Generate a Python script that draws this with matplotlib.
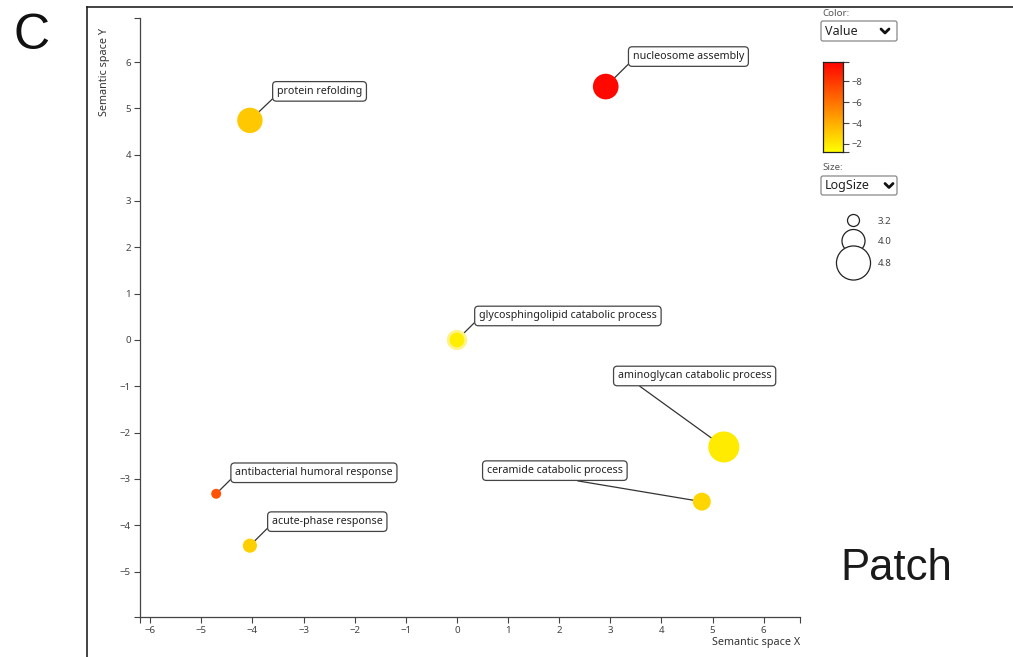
import matplotlib
matplotlib.use("Agg")
import matplotlib.pyplot as plt
import numpy as np
from matplotlib.colors import LinearSegmentedColormap, Normalize
from matplotlib.patches import FancyBboxPatch

# GO terms (REVIGO semantic space)
terms = ["protein refolding", "nucleosome assembly",
         "glycosphingolipid catabolic process", "aminoglycan catabolic process",
         "ceramide catabolic process", "antibacterial humoral response",
         "acute-phase response"]
sem_x = [-4.05, 2.91, 0.00, 5.22, 4.79, -4.71, -4.05]
sem_y = [4.74, 5.47, 0.00, -2.31, -3.49, -3.32, -4.44]
value = [-3.1, -9.6, -1.8, -1.9, -2.6, -7.1, -2.8]
log_size = [4.17, 4.19, 3.60, 4.58, 3.63, 3.05, 3.35]

size_legend = [3.2, 4.0, 4.8]
cbar_ticks = [-8, -6, -4, -2]
v_min, v_max = -9.9, -1.2

# label placement: offset in pixels from the point, and where the leader line meets the box
label_off = [(27, 29), (27, 30), (22, 24), (-106, 71), (-215, 31), (19, 21), (22, 24)]
label_rel = [(0, 0.2), (0, 0.2), (0, 0.3), (0.1, 0), (0.46, 0), (0, 0.3), (0, 0.3)]

W, H = 1013, 657
FONT = ["Noto Sans", "DejaVu Sans"]
plt.rcParams["font.family"] = FONT

cmap = LinearSegmentedColormap.from_list("ry", ["#ff0000", "#ffff00"])
norm = Normalize(vmin=v_min, vmax=v_max)


def radius_px(ls):
    return 6 + (np.asarray(ls) - 3.2) * 6.9


def marker_area(ls):
    return (2 * radius_px(ls) * 72 / 100) ** 2


fig = plt.figure(figsize=(W / 100, H / 100), dpi=100)

# overlay in pixel coordinates for frame and the widget-like bits
ov = fig.add_axes([0, 0, 1, 1])
ov.set_xlim(0, W)
ov.set_ylim(H, 0)
ov.axis("off")
ov.plot([87, 87], [H, 7], color="#222", lw=1.2)
ov.plot([87, W], [7, 7], color="#222", lw=1.2)
ov.text(32, 36, "C", fontsize=36, family="Liberation Sans", ha="center", va="center", color="#111")
ov.text(896, 568, "Patch", fontsize=31.5, family="Liberation Sans", ha="center", va="center", color="#1a1a1a")

ov.text(822, 13, "Color:", fontsize=7, color="#555", va="center")
ov.text(822, 168, "Size:", fontsize=7, color="#555", va="center")
for (y0, y1, txt, cx) in [(21, 41, "Value", 885), (176, 195, "LogSize", 889)]:
    ov.add_patch(FancyBboxPatch((821, y0), 76, y1 - y0, boxstyle="round,pad=0,rounding_size=2",
                                fc="white", ec="#888", lw=0.9))
    ov.text(825, (y0 + y1) / 2 + 0.5, txt, fontsize=9, color="#222", va="center")
    cy = (y0 + y1) / 2
    ov.plot([cx - 4, cx, cx + 4], [cy - 2, cy + 2, cy - 2], color="#111", lw=2.0,
            solid_capstyle="round", solid_joinstyle="round")

# size legend
leg_y = [220.5, 241, 263]
ov.scatter([853.5] * len(size_legend), leg_y, s=marker_area(size_legend),
           facecolor="white", edgecolor="#222", lw=0.9, zorder=3)
for v, y in zip(size_legend, leg_y):
    ov.text(878, y + 1, f"{v:.1f}", fontsize=7, color="#444", va="center")

ov.text(104, 28, "Semantic space Y", rotation=90, fontsize=7.8, color="#333", ha="center", va="top")
ov.text(800, 643, "Semantic space X", fontsize=7.8, color="#333", ha="right", va="center")

# main scatter
ax = fig.add_axes([140 / W, 1 - 617 / H, 660 / W, 599 / H])
ax.patch.set_alpha(0)
ax.set_xlim(-6.20, 6.71)
ax.set_ylim(-5.98, 6.95)
for s in ["top", "right"]:
    ax.spines[s].set_visible(False)
for s in ["left", "bottom"]:
    ax.spines[s].set_color("#444")
    ax.spines[s].set_linewidth(0.9)
ax.set_xticks(range(-6, 7))
ax.set_yticks(range(-5, 7))
ax.set_xticks(ax.get_xlim(), minor=True)
ax.set_yticks(ax.get_ylim(), minor=True)
ax.tick_params(which="both", length=4.5, width=0.8, color="#444", labelsize=7,
               labelcolor="#444", pad=2)

ax.scatter(sem_x, sem_y, s=marker_area(log_size), c=value, cmap=cmap, norm=norm,
           edgecolors=["#fff38a" if t.startswith("glyco") else "none" for t in terms],
           linewidths=[2.0 if t.startswith("glyco") else 0 for t in terms], zorder=3)

for t, x, y, off, rel in zip(terms, sem_x, sem_y, label_off, label_rel):
    ax.annotate(t, (x, y), xytext=off, textcoords="offset pixels", ha="left", va="center",
                fontsize=7.7, color="#222", zorder=2, annotation_clip=False,
                bbox=dict(boxstyle="round,pad=0.4,rounding_size=0.35", fc="white", ec="#444", lw=0.9),
                arrowprops=dict(arrowstyle="-", color="#333", lw=0.9, shrinkA=0, shrinkB=0,
                                relpos=rel))

# colour scale
cax = fig.add_axes([823 / W, 1 - 152.3 / H, 20 / W, 90.6 / H])
grad = np.linspace(v_min, v_max, 256).reshape(-1, 1)
cax.imshow(grad, cmap=cmap, norm=norm, aspect="auto", origin="lower",
           extent=[0, 1, v_min, v_max])
cax.set_ylim(v_max, v_min)
cax.set_xticks([])
cax.yaxis.tick_right()
cax.set_yticks(cbar_ticks)
cax.set_yticks([v_min, v_max], minor=True)
cax.tick_params(which="both", length=4, width=0.8, color="#444", labelsize=6.8, labelcolor="#444", pad=2)
for s in cax.spines.values():
    s.set_color("#222")
    s.set_linewidth(0.9)

fig.savefig("out.png", dpi=100)
